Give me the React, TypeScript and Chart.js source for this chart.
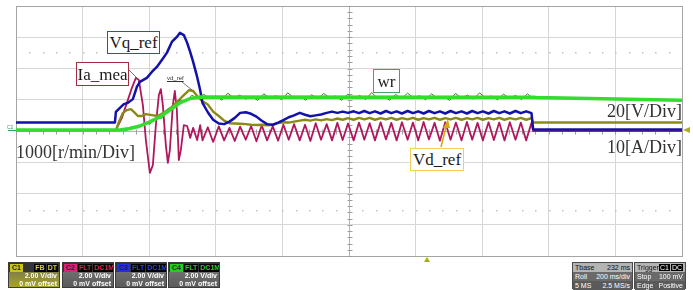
import React, { useEffect, useRef } from "react";
import { Chart, registerables } from "chart.js";

Chart.register(...registerables);

// ---- axis setup (time in ms, amplitude in divisions) ----
const X_MIN = 0;
const X_MAX = 2000;
const X_STEP = 200;
const Y_MIN = -4;
const Y_MAX = 4;
const Y_STEP = 1;
const DOT_ROW = 2.53;

// ---- wr (speed) ----
const wrT = [0, 312, 342, 372, 402, 432, 462, 492, 523, 553, 1553, 1562, 2000];
const wrV = [0.03, 0.03, 0.08, 0.16, 0.29, 0.45, 0.67, 0.9, 1.04, 1.09, 1.08, 1.07, 0.98];

// wr measurement noise trace
const wrNoiseT = [330, 348, 366, 384, 402, 420, 438, 456, 474, 492, 510, 528, 546, 564, 582, 600, 618, 636, 654, 672, 690, 708, 726, 744, 762, 780, 798, 816, 834, 852, 870, 888, 906, 924, 942, 960, 978, 996, 1014, 1032, 1050, 1068, 1086, 1104, 1122, 1140, 1158, 1176, 1194, 1212, 1230, 1248, 1266, 1284, 1302, 1320, 1338, 1356, 1374, 1392, 1410, 1428, 1446, 1464, 1482, 1500, 1518, 1536, 1550];
const wrNoiseV = [0.0, 0.15, 0.1, 0.26, 0.22, 0.42, 0.41, 0.7, 0.74, 0.99, 0.95, 1.14, 1.06,
  1.17, 1.04, 1.12, 0.99, 1.21, 1.06, 1.15, 1.02, 1.1, 0.98, 1.19,
  1.05, 1.13, 1.0, 1.22, 1.07, 1.11, 0.99, 1.16, 1.03, 1.2, 1.06,
  1.12, 0.98, 1.18, 1.04, 1.14, 1.01, 1.23, 1.05, 1.1, 0.99, 1.17,
  1.03, 1.21, 1.06, 1.13, 1.0, 1.19, 1.04, 1.11, 0.98, 1.2, 1.05,
  1.15, 1.02, 1.22, 1.06, 1.12, 1.0, 1.18, 1.04, 1.14, 1.01, 1.19,
  1.06];

// steady-state sampling instants (half ripple period)
const rippleT = [560, 576, 592, 609, 625, 641, 657, 673, 690, 706, 722, 738, 754, 771, 787, 803, 819, 835, 852, 868, 884, 900, 916, 933, 949, 965, 981, 997, 1014, 1030, 1046, 1062, 1078, 1095, 1111, 1127, 1143, 1159, 1176, 1192, 1208, 1224, 1240, 1257, 1273, 1289, 1305, 1321, 1338, 1354, 1370, 1386, 1402, 1419, 1435, 1451, 1467, 1483, 1500, 1516, 1532, 1548];
const tailT = [1553, 2000];

// ---- Vq_ref ----
const vqT0 = [0, 297, 300, 312, 324, 336, 351, 363, 372, 393, 408, 423, 438, 453, 468, 483, 492, 504, 514, 523, 532, 544, 553];
const vqV0 = [0.27, 0.27, 0.61, 0.74, 0.86, 0.9, 1.02, 1.41, 1.57, 1.7, 1.89, 2.05, 2.27, 2.5, 2.85, 3.01, 3.14, 3.07, 2.82, 2.53, 2.21, 1.73, 1.31];
const vqRipple = [0.9, 0.6, 0.36, 0.24, 0.22, 0.3, 0.42, 0.58, 0.6, 0.55, 0.46, 0.33, 0.22, 0.2, 0.27, 0.35, 0.44, 0.5, 0.58, 0.52, 0.47, 0.5, 0.53, 0.58, 0.62, 0.58, 0.62, 0.58, 0.63, 0.57, 0.64, 0.57, 0.63, 0.56, 0.64, 0.57, 0.63, 0.56, 0.64, 0.57, 0.63, 0.56, 0.64, 0.57, 0.63, 0.56, 0.64, 0.57, 0.63, 0.56, 0.64, 0.57, 0.63, 0.56, 0.64, 0.57, 0.63, 0.56, 0.64, 0.57, 0.63, 0.57];
const vqTail = [0.05, 0.05];

// ---- Vd_ref ----
const vdT0 = [0, 300, 309, 321, 333, 345, 354, 366, 378, 390, 408, 426, 447, 468, 486, 504, 520, 532, 544];
const vdV0 = [0.02, 0.03, 0.29, 0.58, 0.67, 0.7, 0.61, 0.48, 0.48, 0.54, 0.51, 0.48, 0.61, 0.77, 0.96, 1.15, 1.31, 1.28, 1.12];
const vdRipple = [0.95, 0.85, 0.62, 0.48, 0.33, 0.25, 0.24, 0.23, 0.22, 0.2, 0.19, 0.2, 0.18, 0.2, 0.25, 0.28, 0.27, 0.3, 0.33, 0.36, 0.33, 0.37, 0.34, 0.38, 0.35, 0.4, 0.36, 0.41, 0.36, 0.42, 0.37, 0.42, 0.36, 0.41, 0.37, 0.42, 0.36, 0.41, 0.37, 0.42, 0.36, 0.41, 0.37, 0.42, 0.36, 0.41, 0.37, 0.42, 0.36, 0.41, 0.37, 0.42, 0.36, 0.41, 0.37, 0.42, 0.36, 0.41, 0.37, 0.42, 0.36, 0.41];
const vdTail = [0.27, 0.27];

// ---- Ia_mea ----
const iaT0 = [0, 300, 318, 333, 348, 360, 369, 381, 390, 402, 411, 420, 429, 435, 441, 450, 456, 462, 471, 477, 483, 489, 495, 504, 514, 523, 532, 544, 553];
const iaV0 = [0.03, 0.03, 0.42, 0.9, 1.38, 1.7, 1.63, 0.83, -0.29, -1.34, -1.09, 0.19, 1.15, 1.34, 0.83, -0.45, -1.02, -0.61, 0.83, 1.28, 0.67, -0.93, -0.61, 0.19, 0.16, -0.22, 0.1, -0.29, 0.19];
const iaRipple = [-0.3, 0.12, -0.35, 0.15, -0.3, 0.1, -0.32, 0.14, -0.28, 0.16, -0.33, 0.18, -0.3, 0.15, -0.31, 0.2, -0.28, 0.22, -0.3, 0.2, -0.32, 0.25, -0.28, 0.22, -0.3, 0.26, -0.29, 0.24, -0.3, 0.27, -0.28, 0.25, -0.3, 0.28, -0.27, 0.26, -0.3, 0.28, -0.28, 0.27, -0.3, 0.29, -0.27, 0.26, -0.31, 0.28, -0.28, 0.27, -0.3, 0.29, -0.28, 0.26, -0.3, 0.28, -0.29, 0.27, -0.3, 0.28, -0.28, 0.27, -0.3, 0.26];
const iaTail = [0.0, 0.0];

const COLORS = {
  wr: "#34dc30",
  wrNoise: "#2f7f22",
  vq: "#1212aa",
  vd: "#8c8a16",
  ia: "#b0185e",
};

function pairs(t: number[], v: number[]) {
  return t.map((x, i) => ({ x, y: v[i] }));
}

const scopeDecor = {
  id: "scopeDecor",
  beforeDatasetsDraw(chart: any) {
    const { ctx, scales } = chart;
    const xs = scales.x;
    const ys = scales.y;
    ctx.save();
    ctx.strokeStyle = "#9e9e9e";
    ctx.lineWidth = 1;
    const cx = Math.round(xs.getPixelForValue((X_MIN + X_MAX) / 2)) + 0.5;
    const cy = Math.round(ys.getPixelForValue(0)) + 0.5;
    ctx.beginPath();
    for (let k = 0; k <= 40; k++) {
      const v = Y_MIN + k * 0.2;
      const py = Math.round(ys.getPixelForValue(v)) + 0.5;
      ctx.moveTo(cx - 2, py);
      ctx.lineTo(cx + 3, py);
    }
    for (let k = 0; k <= 50; k++) {
      const t = X_MIN + k * 40;
      const px = Math.round(xs.getPixelForValue(t)) + 0.5;
      ctx.moveTo(px, cy - 2);
      ctx.lineTo(px, cy + 3);
    }
    ctx.stroke();
    ctx.fillStyle = "#c2c2c2";
    for (const v of [DOT_ROW, -DOT_ROW]) {
      const py = Math.round(ys.getPixelForValue(v));
      for (let k = 1; k < 50; k++) {
        const px = Math.round(xs.getPixelForValue(X_MIN + k * 40));
        ctx.fillRect(px, py, 1.5, 1.5);
      }
    }
    ctx.restore();
  },
};

function gridColor(edges: number[], center: number) {
  return (c: any) => {
    const v = c.tick ? c.tick.value : null;
    if (v === edges[0] || v === edges[1]) return "#a4a4a4";
    if (v === center) return "#b4b4b4";
    return "#d6d6d6";
  };
}

const serif = '"Liberation Serif", "DejaVu Serif", serif';
const sans = '"Liberation Sans", Arial, sans-serif';

function BoxLabel(props: { text: string; left: number; top: number; width: number; height: number; border: string }) {
  const { text, left, top, width, height, border } = props;
  return (
    <div
      style={{
        position: "absolute",
        left,
        top,
        width,
        height,
        boxSizing: "border-box",
        border: `1px solid ${border}`,
        background: "#fff",
        font: `17px ${serif}`,
        color: "#1a1a1a",
        display: "flex",
        alignItems: "center",
        justifyContent: "center",
        lineHeight: "17px",
      }}
    >
      {text}
    </div>
  );
}

function ChannelBox(props: { left: number; chip: string; chipBg: string; chipColor: string; tags: string[]; tagColor: string; bg: string }) {
  const { left, chip, chipBg, chipColor, tags, tagColor, bg } = props;
  return (
    <div
      style={{
        position: "absolute",
        left,
        top: 262,
        width: 52,
        height: 26,
        boxSizing: "border-box",
        border: "1px solid #3c3c3c",
        background: bg,
        font: `bold 7px ${sans}`,
        color: "#fff",
        overflow: "hidden",
      }}
    >
      <div style={{ height: 9, display: "flex", alignItems: "center", background: "#353535", paddingLeft: 1, paddingRight: 1 }}>
        <span style={{ background: chipBg, color: chipColor, padding: "0 2px", lineHeight: "8px" }}>{chip}</span>
        <span style={{ flex: 1 }} />
        {tags.map((t) => (
          <span key={t} style={{ background: "#000", color: tagColor, marginLeft: 1, padding: "0 1px", lineHeight: "8px" }}>
            {t}
          </span>
        ))}
      </div>
      <div style={{ textAlign: "right", paddingRight: 2, lineHeight: "8px" }}>2.00 V/div</div>
      <div style={{ textAlign: "right", paddingRight: 2, lineHeight: "8px" }}>0 mV offset</div>
    </div>
  );
}

function InfoRow(props: { l: React.ReactNode; r: React.ReactNode; bg: string; color: string }) {
  return (
    <div style={{ display: "flex", justifyContent: "space-between", background: props.bg, color: props.color, lineHeight: "9px", height: 9, padding: "0 2px" }}>
      <span>{props.l}</span>
      <span>{props.r}</span>
    </div>
  );
}

export default function App() {
  const ref = useRef<HTMLCanvasElement>(null);

  useEffect(() => {
    const common = { pointRadius: 0, tension: 0, fill: false, borderJoinStyle: "round" as const };
    const chart = new Chart(ref.current as HTMLCanvasElement, {
      type: "line",
      data: {
        datasets: [
          { label: "wr", data: pairs(wrT, wrV), borderColor: COLORS.wr, borderWidth: 3.5, ...common },
          { label: "wr noise", data: pairs(wrNoiseT, wrNoiseV), borderColor: COLORS.wrNoise, borderWidth: 1, ...common },
          { label: "Vq_ref", data: pairs([...vqT0, ...rippleT, ...tailT], [...vqV0, ...vqRipple, ...vqTail]), borderColor: COLORS.vq, borderWidth: 2.5, ...common },
          { label: "Vd_ref", data: pairs([...vdT0, ...rippleT, ...tailT], [...vdV0, ...vdRipple, ...vdTail]), borderColor: COLORS.vd, borderWidth: 2.4, ...common },
          { label: "Ia_mea", data: pairs([...iaT0, ...rippleT, ...tailT], [...iaV0, ...iaRipple, ...iaTail]), borderColor: COLORS.ia, borderWidth: 1.8, ...common },
        ],
      },
      options: {
        animation: false,
        responsive: false,
        devicePixelRatio: 1,
        layout: { padding: { left: 16, top: 6, right: 11, bottom: 34 } },
        plugins: { legend: { display: false }, tooltip: { enabled: false } },
        scales: {
          x: {
            type: "linear",
            min: X_MIN,
            max: X_MAX,
            ticks: { display: false, stepSize: X_STEP },
            grid: { color: gridColor([X_MIN, X_MAX], (X_MIN + X_MAX) / 2), drawTicks: false, lineWidth: 1 },
            border: { color: "#a4a4a4" },
          },
          y: {
            type: "linear",
            min: Y_MIN,
            max: Y_MAX,
            ticks: { display: false, stepSize: Y_STEP },
            grid: { color: gridColor([Y_MIN, Y_MAX], 0), drawTicks: false, lineWidth: 1 },
            border: { color: "#a4a4a4" },
          },
        },
      },
      plugins: [scopeDecor],
    });
    return () => chart.destroy();
  }, []);

  return (
    <div style={{ position: "fixed", left: 0, top: 0, width: 693, height: 290, background: "#fff", overflow: "hidden" }}>
      <canvas ref={ref} width={693} height={290} style={{ position: "absolute", left: 0, top: 0 }} />

      <svg width={693} height={290} style={{ position: "absolute", left: 0, top: 0, pointerEvents: "none" }}>
        <line x1={129} y1={70} x2={137} y2={78} stroke="#555" strokeWidth={0.8} />
        <line x1={182} y1={82} x2={192} y2={90} stroke="#555" strokeWidth={0.8} />
        <line x1={441} y1={147} x2={446} y2={127} stroke="#d4aa10" strokeWidth={1.5} />
        <polygon points="448,119 443,128 450,128" fill="#d4aa10" />
        <line x1={8} y1={130.5} x2={16} y2={130.5} stroke="#3aa050" strokeWidth={1} />
        <polygon points="683,130 690,127 690,133" fill="#b0a820" />
        <polygon points="427,257 424,262 430,262" fill="#a4b400" />
      </svg>

      <div style={{ position: "absolute", left: 7, top: 124, font: `5px ${sans}`, color: "#3aa060" }}>C2</div>

      <BoxLabel text="Vq_ref" left={107} top={31} width={53} height={23} border="#3a4cb0" />
      <BoxLabel text="Ia_mea" left={76} top={62} width={53} height={24} border="#a03040" />
      <BoxLabel text="wr" left={373} top={69} width={27} height={24} border="#4c9c6c" />
      <BoxLabel text="Vd_ref" left={410} top={148} width={54} height={23} border="#f2d060" />
      <div style={{ position: "absolute", left: 167, top: 75, font: `6px ${sans}`, color: "#333", textDecoration: "underline" }}>vd_ref</div>

      <div style={{ position: "absolute", right: 11, top: 102, font: `18px ${serif}`, color: "#333", lineHeight: "18px" }}>20[V/Div]</div>
      <div style={{ position: "absolute", right: 11, top: 138, font: `18px ${serif}`, color: "#333", lineHeight: "18px" }}>10[A/Div]</div>
      <div style={{ position: "absolute", left: 16, top: 143, font: `18px ${serif}`, color: "#333", lineHeight: "18px" }}>1000[r/min/Div]</div>

      <ChannelBox left={8} chip="C1" chipBg="#c8c418" chipColor="#222" tags={["FB", "DT"]} tagColor="#d0d020" bg="linear-gradient(#6a6a5a, #a8a424)" />
      <ChannelBox left={62} chip="C2" chipBg="#e0207a" chipColor="#222" tags={["FLT", "DC1M"]} tagColor="#e02050" bg="linear-gradient(#7a7a7a, #5a5a5a)" />
      <ChannelBox left={115} chip="C3" chipBg="#2030e0" chipColor="#222" tags={["FLT", "DC1M"]} tagColor="#3040e0" bg="linear-gradient(#7a7a7a, #5a5a5a)" />
      <ChannelBox left={168} chip="C4" chipBg="#20d020" chipColor="#222" tags={["FLT", "DC1M"]} tagColor="#20d020" bg="linear-gradient(#7a7a7a, #5a5a5a)" />

      <div style={{ position: "absolute", left: 572, top: 262, width: 61, height: 27, boxSizing: "border-box", border: "1px solid #4a4a4a", font: `7px ${sans}`, background: "#666" }}>
        <InfoRow l="Tbase" r="232 ms" bg="#b4b4b4" color="#111" />
        <InfoRow l="Roll" r="200 ms/div" bg="#6a6a6a" color="#fff" />
        <InfoRow l="5 MS" r="2.5 MS/s" bg="#5a5a5a" color="#fff" />
      </div>
      <div style={{ position: "absolute", left: 634, top: 262, width: 52, height: 27, boxSizing: "border-box", border: "1px solid #4a4a4a", font: `7px ${sans}`, background: "#666" }}>
        <InfoRow
          l="Trigger"
          r={
            <span>
              <span style={{ background: "#000", color: "#fff", padding: "0 1px" }}>C1</span>
              <span style={{ background: "#000", color: "#fff", padding: "0 1px", marginLeft: 1 }}>DC</span>
            </span>
          }
          bg="#b4b4b4"
          color="#111"
        />
        <InfoRow l="Stop" r="100 mV" bg="#6a6a6a" color="#fff" />
        <InfoRow l="Edge" r="Positive" bg="#5a5a5a" color="#fff" />
      </div>
    </div>
  );
}
